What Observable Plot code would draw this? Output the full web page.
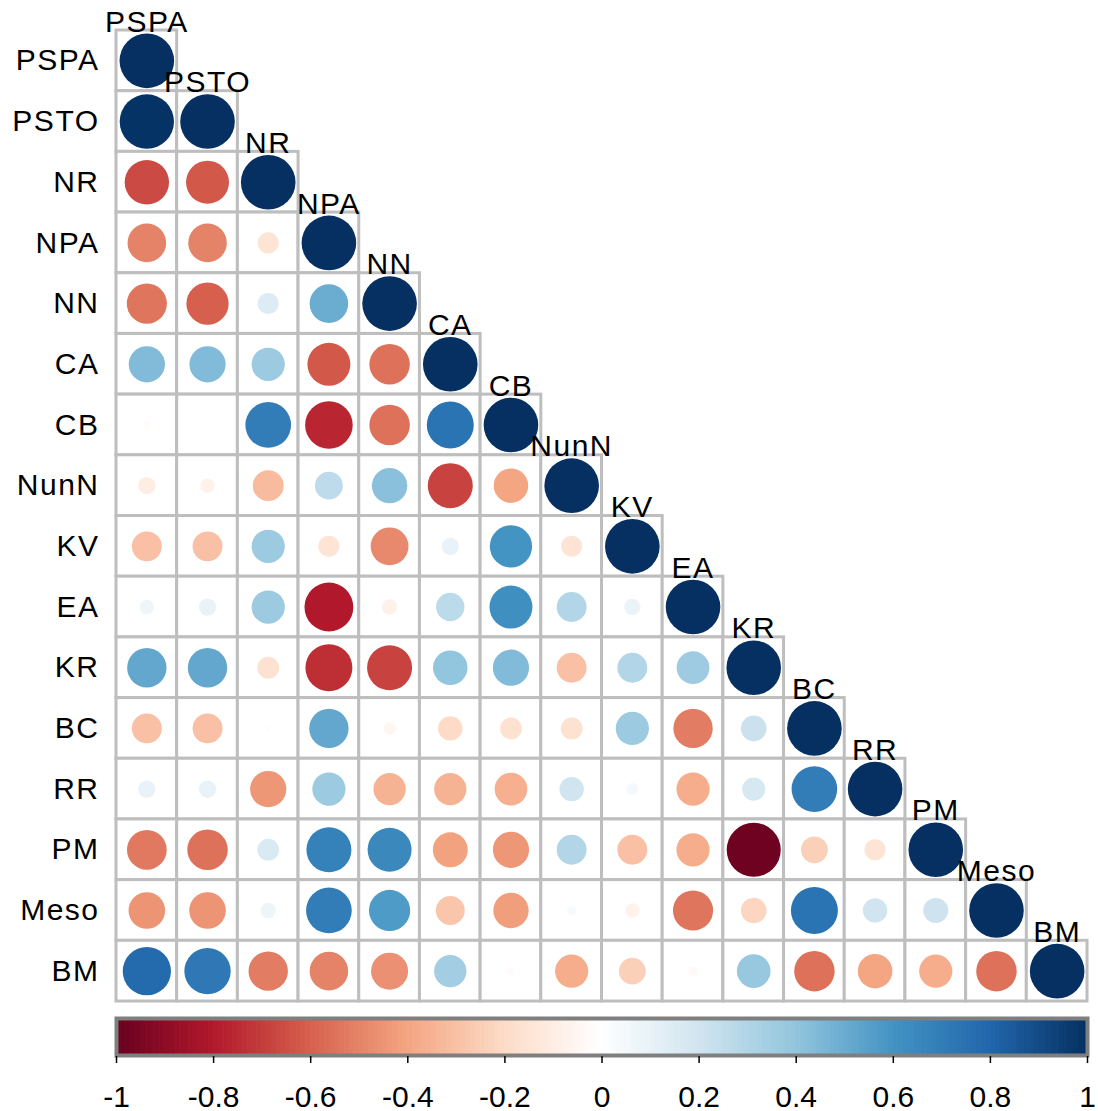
<!DOCTYPE html>
<html>
<head>
<meta charset="utf-8">
<script src="https://cdn.jsdelivr.net/npm/d3@7"></script>
<script src="https://cdn.jsdelivr.net/npm/@observablehq/plot@0.6"></script>
<style>
  html, body { margin: 0; padding: 0; background: #fff; }
  #chart { width: 1098px; }
  #chart svg { display: block; }
</style>
</head>
<body>
<div id="chart"></div>
<script>
// Variables (row/column order)
const vars = ["PSPA","PSTO","NR","NPA","NN","CA","CB","NunN","KV","EA","KR","BC","RR","PM","Meso","BM"];

// Lower-triangle correlations: row variable vs. earlier columns (diagonal = 1)
const rPSPA = [];
const rPSTO = [0.99];
const rNR   = [-0.66, -0.62];
const rNPA  = [-0.5, -0.5, -0.15];
const rNN   = [-0.54, -0.6, 0.15, 0.5];
const rCA   = [0.44, 0.44, 0.37, -0.62, -0.55];
const rCB   = [-0.02, 0.01, 0.7, -0.76, -0.55, 0.74];
const rNunN = [-0.1, -0.07, -0.32, 0.26, 0.42, -0.68, -0.4];
const rKV   = [-0.3, -0.3, 0.37, -0.15, -0.48, 0.1, 0.6, -0.15];
const rEA   = [0.07, 0.1, 0.37, -0.8, -0.08, 0.27, 0.62, 0.3, 0.09];
const rKR   = [0.52, 0.52, -0.16, -0.74, -0.68, 0.4, 0.44, -0.3, 0.3, 0.36];
const rBC   = [-0.3, -0.3, -0.01, 0.52, -0.05, -0.2, -0.16, -0.16, 0.37, -0.52, 0.22];
const rRR   = [0.1, 0.1, -0.44, 0.37, -0.35, -0.35, -0.36, 0.2, 0.05, -0.37, 0.18, 0.7];
const rPM   = [-0.53, -0.55, 0.16, 0.68, 0.65, -0.41, -0.44, 0.3, -0.3, -0.37, -0.98, -0.24, -0.15];
const rMeso = [-0.45, -0.45, 0.08, 0.7, 0.57, -0.28, -0.42, 0.03, -0.07, -0.54, -0.22, 0.74, 0.2, 0.21];
const rBM   = [0.78, 0.72, -0.52, -0.5, -0.46, 0.35, -0.02, -0.37, -0.24, -0.03, 0.38, -0.55, -0.4, -0.37, -0.55];

// Colour bar ticks
const barTicks = [-1, -0.8, -0.6, -0.4, -0.2, 0, 0.2, 0.4, 0.6, 0.8, 1];
const barTickLabels = ["-1", "-0.8", "-0.6", "-0.4", "-0.2", "0", "0.2", "0.4", "0.6", "0.8", "1"];

// corrplot RdBu palette stops
const colorStops = [-1, -0.8, -0.6, -0.4, -0.2, 0, 0.2, 0.4, 0.6, 0.8, 1];
const colorRange = ["#67001F","#B2182B","#D6604D","#F4A582","#FDDBC7","#FFFFFF","#D1E5F0","#92C5DE","#4393C3","#2166AC","#053061"];

const rows = [rPSPA, rPSTO, rNR, rNPA, rNN, rCA, rCB, rNunN, rKV, rEA, rKR, rBC, rRR, rPM, rMeso, rBM];
const table = [];
vars.forEach((rv, i) => {
  for (let j = 0; j <= i; j++) {
    table.push({row: rv, col: vars[j], value: j === i ? 1 : rows[i][j]});
  }
});
const diag = vars.map(v => ({row: v, col: v}));

const W = 1098, marginLeft = 116, marginRight = 11, marginTop = 30;
const cellSize = (W - marginLeft - marginRight) / vars.length;
const font = "'Liberation Sans', Arial, Helvetica, sans-serif";
const colorOpts = {type: "linear", domain: colorStops, range: colorRange, interpolate: "rgb"};

const main = Plot.plot({
  width: W,
  height: 1005,
  marginLeft, marginRight, marginTop, marginBottom: 1005 - marginTop - cellSize * vars.length,
  style: {fontFamily: font, background: "white", letterSpacing: "1.5px"},
  x: {type: "band", domain: vars, padding: 0, round: false, axis: null},
  y: {type: "band", domain: vars, padding: 0, round: false, axis: null},
  r: {type: "sqrt", domain: [0, 1], range: [0, 0.45 * cellSize]},
  color: colorOpts,
  marks: [
    Plot.cell(table, {x: "col", y: "row", fill: "white", stroke: "#bebebe", strokeWidth: 3, inset: 0}),
    Plot.dot(table, {x: "col", y: "row", r: d => Math.abs(d.value), fill: "value", stroke: "none"}),
    Plot.text(vars, {y: d => d, frameAnchor: "left", textAnchor: "end", dx: -17, fontSize: 30, fill: "black", text: d => d}),
    Plot.text(diag, {x: "col", y: "row", text: "col", lineAnchor: "bottom", dy: -(cellSize / 2) + 1, fontSize: 30, fill: "black"})
  ]
});

const steps = d3.range(200).map(i => -1 + i * 0.01);
const bar = Plot.plot({
  width: W,
  height: 106,
  marginLeft: 116, marginRight: 11, marginTop: 13, marginBottom: 56,
  style: {fontFamily: font, background: "white", overflow: "visible"},
  x: {type: "linear", domain: [-1, 1], axis: null},
  color: colorOpts,
  marks: [
    Plot.rect(steps, {x1: d => d, x2: d => d + 0.01, fill: d => d + 0.005, stroke: d => d + 0.005, strokeWidth: 0.8}),
    Plot.frame({stroke: "#7f7f7f", strokeWidth: 4}),
    Plot.tickX(barTicks, {x: d => d, stroke: "black", strokeWidth: 1.5, dy: 8, insetTop: 30}),
    Plot.text(barTicks, {x: d => d, text: (d, i) => barTickLabels[i], frameAnchor: "bottom", dy: 42, lineAnchor: "middle", fontSize: 30, fill: "black"})
  ]
});

document.getElementById("chart").append(main, bar);
</script>
</body>
</html>
